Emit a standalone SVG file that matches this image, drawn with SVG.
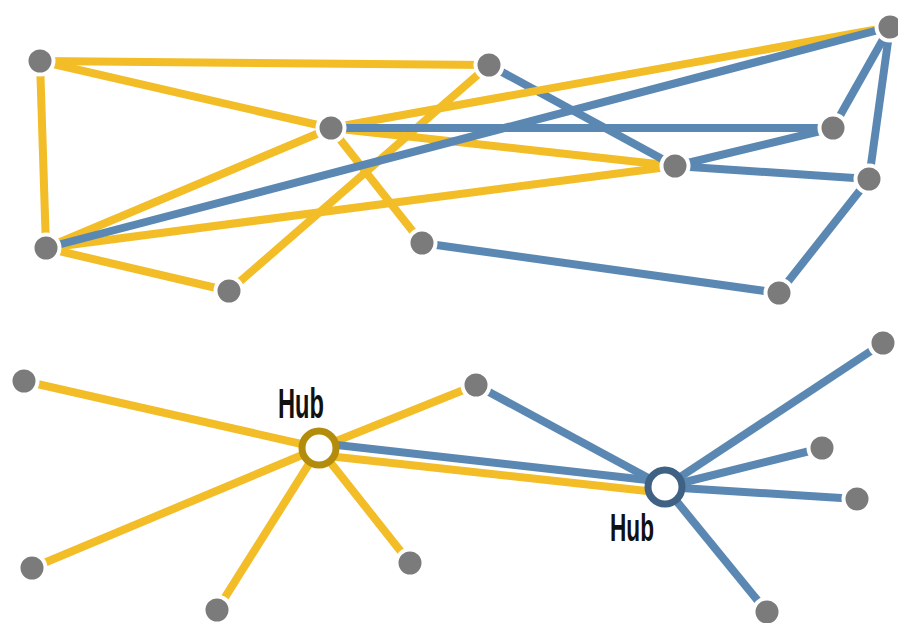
<svg xmlns="http://www.w3.org/2000/svg" width="898" height="623" viewBox="0 0 898 623">
<style>
.y{stroke:#f2bd26;stroke-width:8;fill:none;stroke-linecap:butt}
.b{stroke:#5b88b2;stroke-width:8;fill:none;stroke-linecap:butt}
.n{fill:#7b7b7b;stroke:#ffffff;stroke-width:4}
.hub{fill:#ffffff;stroke-width:7}
.lbl{font-family:"Liberation Sans",Arial,sans-serif;font-weight:bold;fill:#111111}
</style>
<rect width="898" height="623" fill="#ffffff"/>
<g id="connectors">
  <line class="y" x1="40" y1="61" x2="489" y2="65"/>
  <line class="y" x1="40" y1="61" x2="331" y2="128"/>
  <line class="y" x1="40" y1="61" x2="46" y2="248"/>
  <line class="y" x1="46" y1="248" x2="331" y2="128"/>
  <line class="y" x1="46" y1="248" x2="675" y2="166"/>
  <line class="y" x1="46" y1="248" x2="229" y2="291"/>
  <line class="y" x1="229" y1="291" x2="489" y2="65"/>
  <line class="y" x1="331" y1="128" x2="422" y2="243"/>
  <line class="y" x1="331" y1="128" x2="675" y2="166"/>
  <line class="b" x1="489" y1="65" x2="675" y2="166"/>
  <line class="y" x1="331" y1="128" x2="890" y2="27"/>
  <line class="b" x1="46" y1="248" x2="890" y2="27"/>
  <line class="b" x1="331" y1="128" x2="833" y2="128"/>
  <line class="b" x1="675" y1="166" x2="833" y2="128"/>
  <line class="b" x1="675" y1="166" x2="869" y2="179"/>
  <line class="b" x1="890" y1="27" x2="833" y2="128"/>
  <line class="b" x1="890" y1="27" x2="869" y2="179"/>
  <line class="b" x1="869" y1="179" x2="779" y2="293"/>
  <line class="b" x1="422" y1="243" x2="779" y2="293"/>

  <line class="y" x1="319" y1="448" x2="24" y2="381"/>
  <line class="y" x1="319" y1="448" x2="32" y2="568"/>
  <line class="y" x1="319" y1="448" x2="217" y2="610"/>
  <line class="y" x1="319" y1="448" x2="410" y2="563"/>
  <line class="y" x1="319" y1="448" x2="476" y2="385"/>
  <line class="y" x1="319" y1="455" x2="665" y2="493"/>
  <line class="b" x1="319" y1="443" x2="665" y2="482"/>
  <line class="b" x1="476" y1="385" x2="665" y2="487"/>
  <line class="b" x1="665" y1="487" x2="883" y2="343"/>
  <line class="b" x1="665" y1="487" x2="822" y2="448"/>
  <line class="b" x1="665" y1="487" x2="857" y2="499"/>
  <line class="b" x1="665" y1="487" x2="767" y2="612"/>
</g>
<g id="nA"><circle class="n" cx="40" cy="61" r="13.5"/></g>
<g id="nB"><circle class="n" cx="489" cy="65" r="13.5"/></g>
<g id="nC"><circle class="n" cx="331" cy="128" r="13.5"/></g>
<g id="nD"><circle class="n" cx="46" cy="248" r="13.5"/></g>
<g id="nE"><circle class="n" cx="229" cy="291" r="13.5"/></g>
<g id="nF"><circle class="n" cx="422" cy="243" r="13.5"/></g>
<g id="nG"><circle class="n" cx="890" cy="27" r="13.5"/></g>
<g id="nH"><circle class="n" cx="833" cy="128" r="13.5"/></g>
<g id="nI"><circle class="n" cx="675" cy="166" r="13.5"/></g>
<g id="nJ"><circle class="n" cx="869" cy="179" r="13.5"/></g>
<g id="nK"><circle class="n" cx="779" cy="293" r="13.5"/></g>

<g id="nL1"><circle class="n" cx="24" cy="381" r="13.5"/></g>
<g id="nL2"><circle class="n" cx="32" cy="568" r="13.5"/></g>
<g id="nL3"><circle class="n" cx="217" cy="610" r="13.5"/></g>
<g id="nL4"><circle class="n" cx="410" cy="563" r="13.5"/></g>
<g id="nM"><circle class="n" cx="476" cy="385" r="13.5"/></g>
<g id="nR1"><circle class="n" cx="883" cy="343" r="13.5"/></g>
<g id="nR2"><circle class="n" cx="822" cy="448" r="13.5"/></g>
<g id="nR3"><circle class="n" cx="857" cy="499" r="13.5"/></g>
<g id="nR4"><circle class="n" cx="767" cy="612" r="13.5"/></g>

<g id="hubLeft">
  <circle class="hub" cx="319" cy="448" r="17" stroke="#b38c0c"/>
  <text class="lbl" x="278" y="418" font-size="42" textLength="46" lengthAdjust="spacingAndGlyphs">Hub</text>
</g>
<g id="hubRight">
  <circle class="hub" cx="665" cy="487" r="17" stroke="#3f6184"/>
  <text class="lbl" x="610" y="541" font-size="39" textLength="44" lengthAdjust="spacingAndGlyphs">Hub</text>
</g>
</svg>
